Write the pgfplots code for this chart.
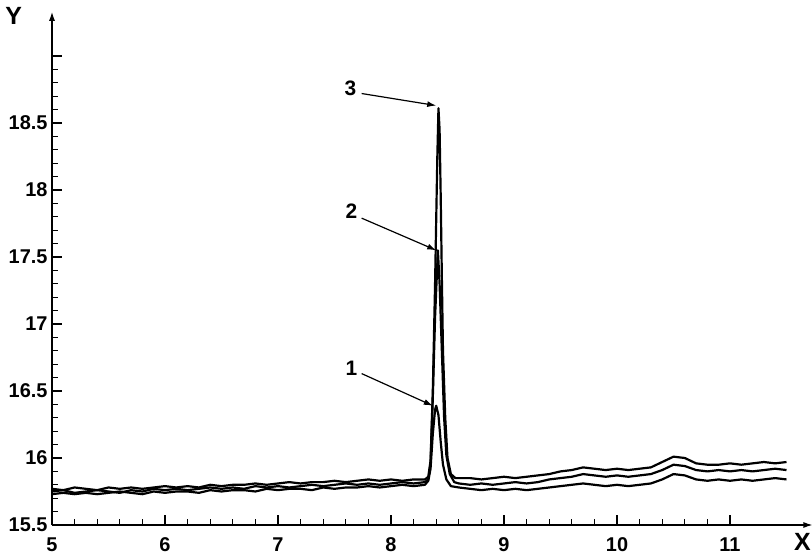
\documentclass[border=0pt]{standalone}
\usepackage{fontspec}
\setmainfont{Liberation Sans}[BoldFont={Liberation Sans Bold}]
\usepackage{pgfplots}
\pgfplotsset{compat=1.18}
\usetikzlibrary{arrows.meta}

\begin{document}
\begin{tikzpicture}
\begin{axis}[
    x=113bp, y=134bp,
    xmin=5, xmax=11.73,
    ymin=15.5, ymax=19.33,
    axis lines=left,
    axis line style={line width=1.3pt, -{Latex[length=9bp,width=6bp]}},
    clip=false,
    xtick={5,6,...,11},
    xticklabels={\textbf{5},\textbf{6},\textbf{7},\textbf{8},\textbf{9},\textbf{10},\textbf{11}},
    ytick={15.5,16,16.5,17,17.5,18,18.5,19},
    yticklabels={\textbf{15.5},\textbf{16},\textbf{16.5},\textbf{17},\textbf{17.5},\textbf{18},\textbf{18.5},},
    /pgf/number format/assume math mode=true,
    minor x tick num=4,
    minor y tick num=4,
    tick align=inside,
    major tick length=10bp,
    minor tick length=6bp,
    tick style={line width=1.1pt, black},
    ticklabel style={font=\fontsize{20}{20}\selectfont\bfseries},
    xticklabel style={yshift=-9bp},
    yticklabel style={xshift=-1bp},
    curve/.style={black, line width=2.2pt, line join=round, mark=none},
]
\coordinate (O) at (axis cs:5,15.5);

% curve 3
\addplot[curve] coordinates {
(5.0,15.77) (5.1,15.76) (5.2,15.78) (5.3,15.77) (5.4,15.76) (5.5,15.78) (5.6,15.77) (5.7,15.78) (5.8,15.77) (5.9,15.78)
(6.0,15.79) (6.1,15.78) (6.2,15.79) (6.3,15.78) (6.4,15.80) (6.5,15.79) (6.6,15.80) (6.7,15.80) (6.8,15.81) (6.9,15.80)
(7.0,15.81) (7.1,15.82) (7.2,15.81) (7.3,15.82) (7.4,15.82) (7.5,15.83) (7.6,15.82) (7.7,15.83) (7.8,15.84) (7.9,15.83)
(8.0,15.84) (8.1,15.83) (8.2,15.84) (8.3,15.84)
(8.33,15.86) (8.35,15.98) (8.37,16.5) (8.39,17.3) (8.41,18.25) (8.42,18.61) (8.43,18.45) (8.44,17.95) (8.45,17.35)
(8.46,16.8) (8.48,16.3) (8.50,16.0) (8.53,15.88) (8.57,15.85)
(8.6,15.85) (8.7,15.85) (8.8,15.84) (8.9,15.85) (9.0,15.86) (9.1,15.85) (9.2,15.86) (9.3,15.87) (9.4,15.88) (9.5,15.90)
(9.6,15.91) (9.7,15.93) (9.8,15.92) (9.9,15.91) (10.0,15.92) (10.1,15.91) (10.2,15.92) (10.3,15.93) (10.4,15.97) (10.5,16.01)
(10.6,16.00) (10.7,15.96) (10.8,15.95) (10.9,15.95) (11.0,15.96) (11.1,15.95) (11.2,15.96) (11.3,15.97) (11.4,15.96) (11.5,15.97)
};

% curve 2
\addplot[curve] coordinates {
(5.0,15.75) (5.1,15.76) (5.2,15.74) (5.3,15.75) (5.4,15.76) (5.5,15.75) (5.6,15.74) (5.7,15.76) (5.8,15.75) (5.9,15.77)
(6.0,15.76) (6.1,15.77) (6.2,15.76) (6.3,15.77) (6.4,15.78) (6.5,15.77) (6.6,15.78) (6.7,15.77) (6.8,15.79) (6.9,15.78)
(7.0,15.79) (7.1,15.78) (7.2,15.79) (7.3,15.80) (7.4,15.79) (7.5,15.80) (7.6,15.81) (7.7,15.80) (7.8,15.81) (7.9,15.80)
(8.0,15.81) (8.1,15.82) (8.2,15.81) (8.3,15.82)
(8.33,15.84) (8.35,15.96) (8.37,16.45) (8.39,17.05) (8.415,17.55) (8.43,17.3) (8.45,16.8) (8.47,16.3) (8.49,16.02) (8.52,15.88) (8.56,15.82)
(8.6,15.81) (8.7,15.80) (8.8,15.81) (8.9,15.80) (9.0,15.81) (9.1,15.82) (9.2,15.81) (9.3,15.82) (9.4,15.84) (9.5,15.85)
(9.6,15.86) (9.7,15.88) (9.8,15.87) (9.9,15.86) (10.0,15.87) (10.1,15.86) (10.2,15.87) (10.3,15.88) (10.4,15.91) (10.5,15.95)
(10.6,15.94) (10.7,15.91) (10.8,15.90) (10.9,15.91) (11.0,15.90) (11.1,15.91) (11.2,15.90) (11.3,15.91) (11.4,15.92) (11.5,15.91)
};

% curve 1
\addplot[curve] coordinates {
(5.0,15.73) (5.1,15.74) (5.2,15.73) (5.3,15.74) (5.4,15.73) (5.5,15.74) (5.6,15.75) (5.7,15.74) (5.8,15.73) (5.9,15.75)
(6.0,15.74) (6.1,15.75) (6.2,15.75) (6.3,15.74) (6.4,15.76) (6.5,15.75) (6.6,15.76) (6.7,15.76) (6.8,15.75) (6.9,15.77)
(7.0,15.76) (7.1,15.77) (7.2,15.77) (7.3,15.76) (7.4,15.78) (7.5,15.77) (7.6,15.78) (7.7,15.78) (7.8,15.79) (7.9,15.78)
(8.0,15.79) (8.1,15.80) (8.2,15.79) (8.3,15.80)
(8.33,15.83) (8.35,15.92) (8.37,16.18) (8.39,16.36) (8.40,16.39) (8.42,16.32) (8.44,16.12) (8.46,15.95) (8.49,15.84) (8.53,15.79)
(8.6,15.78) (8.7,15.77) (8.8,15.76) (8.9,15.77) (9.0,15.76) (9.1,15.77) (9.2,15.76) (9.3,15.77) (9.4,15.78) (9.5,15.79)
(9.6,15.80) (9.7,15.81) (9.8,15.80) (9.9,15.79) (10.0,15.80) (10.1,15.79) (10.2,15.80) (10.3,15.81) (10.4,15.84) (10.5,15.88)
(10.6,15.87) (10.7,15.84) (10.8,15.83) (10.9,15.84) (11.0,15.83) (11.1,15.84) (11.2,15.83) (11.3,15.84) (11.4,15.85) (11.5,15.84)
};

% curve labels
\begin{scope}[font=\fontsize{21}{21}\selectfont\bfseries]
\node at (axis cs:7.64,18.76) {3};
\node at (axis cs:7.65,17.84) {2};
\node at (axis cs:7.65,16.67) {1};
\end{scope}
\begin{scope}[line width=1.2pt, -{Latex[length=9bp,width=6bp]}]
\draw (axis cs:7.74,18.72) -- (axis cs:8.40,18.63);
\draw (axis cs:7.74,17.79) -- (axis cs:8.40,17.55);
\draw (axis cs:7.74,16.63) -- (axis cs:8.37,16.39);
\end{scope}

% axis names
\node[font=\fontsize{25}{25}\selectfont\bfseries] at (axis cs:11.64,15.37) {X};
\node[font=\fontsize{25}{25}\selectfont\bfseries] at (axis cs:4.66,19.30) {Y};
\end{axis}
\pgfresetboundingbox
\path (O) ++(-52bp,-35bp) rectangle ++(812bp,560bp);
\end{tikzpicture}
\end{document}
